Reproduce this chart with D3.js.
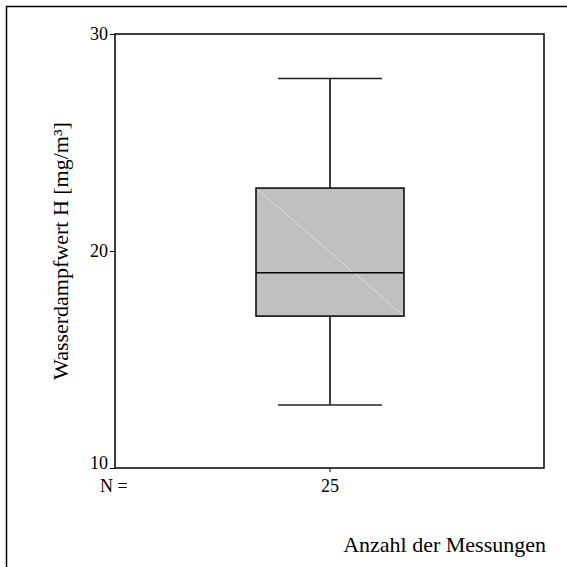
<!DOCTYPE html>
<html><head><meta charset="utf-8">
<script src="https://cdn.jsdelivr.net/npm/d3@7"></script>
<style>body{margin:0;background:#fff}svg{display:block}</style>
</head><body>
<script>
const categories = ["25"];
const q1 = [17];
const median = [19];
const q3 = [22.9];
const whiskerLow = [12.9];
const whiskerHigh = [27.95];
const yTicks = [10, 20, 30];

const W = 567, H = 567;
const svg = d3.select("body").append("svg").attr("width", W).attr("height", H);
const font = "'Liberation Serif','Times New Roman',serif";

svg.append("rect").attr("x", 6.5).attr("y", 6.5).attr("width", 600).attr("height", 600)
  .attr("fill", "none").attr("stroke", "#000").attr("stroke-width", 1.5);

const L = 115, R = 544, T = 34, B = 468;
const y = d3.scaleLinear().domain([10, 30]).range([B, T]);
const x = d3.scaleBand().domain(categories).range([L, R]).paddingInner(0).paddingOuter(0);
const cx = c => x(c) + 215;

svg.append("rect").attr("x", L).attr("y", T).attr("width", R - L).attr("height", B - T)
  .attr("fill", "none").attr("stroke", "#000").attr("stroke-width", 1.5);

const yAxis = svg.append("g").attr("transform", `translate(${L},0)`)
  .call(d3.axisLeft(y).tickValues(yTicks).tickSize(5).tickPadding(2).tickFormat(d3.format("d")));
yAxis.select(".domain").remove();
yAxis.selectAll("line").attr("stroke", "#000");
yAxis.selectAll("text").attr("font-family", font).attr("font-size", 18).attr("fill", "#000")
  .attr("dy", d => d === 10 ? "0.0em" : "0.32em");

// x tick
categories.forEach(c => {
  svg.append("line").attr("x1", cx(c)).attr("x2", cx(c)).attr("y1", B).attr("y2", B + 4).attr("stroke", "#000");
  svg.append("text").attr("x", cx(c)).attr("y", 492).attr("text-anchor", "middle")
    .attr("font-family", font).attr("font-size", 18).text(c);
});
svg.append("text").attr("x", 100).attr("y", 492).attr("font-family", font).attr("font-size", 18).text("N =");

const boxW = 148, capW = 104;
categories.forEach((c, i) => {
  const xc = cx(c);
  const g = svg.append("g");
  g.append("line").attr("x1", xc).attr("x2", xc).attr("y1", y(whiskerHigh[i])).attr("y2", y(q3[i])).attr("stroke", "#000").attr("stroke-width", 1.5);
  g.append("line").attr("x1", xc).attr("x2", xc).attr("y1", y(q1[i])).attr("y2", y(whiskerLow[i])).attr("stroke", "#000").attr("stroke-width", 1.5);
  g.append("line").attr("x1", xc - capW / 2).attr("x2", xc + capW / 2).attr("y1", y(whiskerHigh[i])).attr("y2", y(whiskerHigh[i])).attr("stroke", "#222").attr("stroke-width", 1.5);
  g.append("line").attr("x1", xc - capW / 2).attr("x2", xc + capW / 2).attr("y1", y(whiskerLow[i])).attr("y2", y(whiskerLow[i])).attr("stroke", "#222").attr("stroke-width", 1.5);
  g.append("rect").attr("x", xc - boxW / 2).attr("y", y(q3[i])).attr("width", boxW).attr("height", y(q1[i]) - y(q3[i]))
    .attr("fill", "#c0c0c0").attr("stroke", "none");
  g.append("line").attr("x1", xc - boxW / 2).attr("y1", y(q3[i])).attr("x2", xc + boxW / 2).attr("y2", y(q1[i]))
    .attr("stroke", "#dcdcdc").attr("stroke-width", 1);
  g.append("rect").attr("x", xc - boxW / 2).attr("y", y(q3[i])).attr("width", boxW).attr("height", y(q1[i]) - y(q3[i]))
    .attr("fill", "none").attr("stroke", "#000").attr("stroke-width", 1.5);
  g.append("line").attr("x1", xc - boxW / 2).attr("x2", xc + boxW / 2).attr("y1", y(median[i])).attr("y2", y(median[i])).attr("stroke", "#000").attr("stroke-width", 1.5);
});

svg.append("text").attr("transform", `translate(68,${(T + B) / 2}) rotate(-90)`).attr("text-anchor", "middle")
  .attr("font-family", font).attr("font-size", 22).text("Wasserdampfwert H [mg/m³]");
svg.append("text").attr("x", 546).attr("y", 552).attr("text-anchor", "end")
  .attr("font-family", font).attr("font-size", 22).text("Anzahl der Messungen");
</script>
</body></html>
